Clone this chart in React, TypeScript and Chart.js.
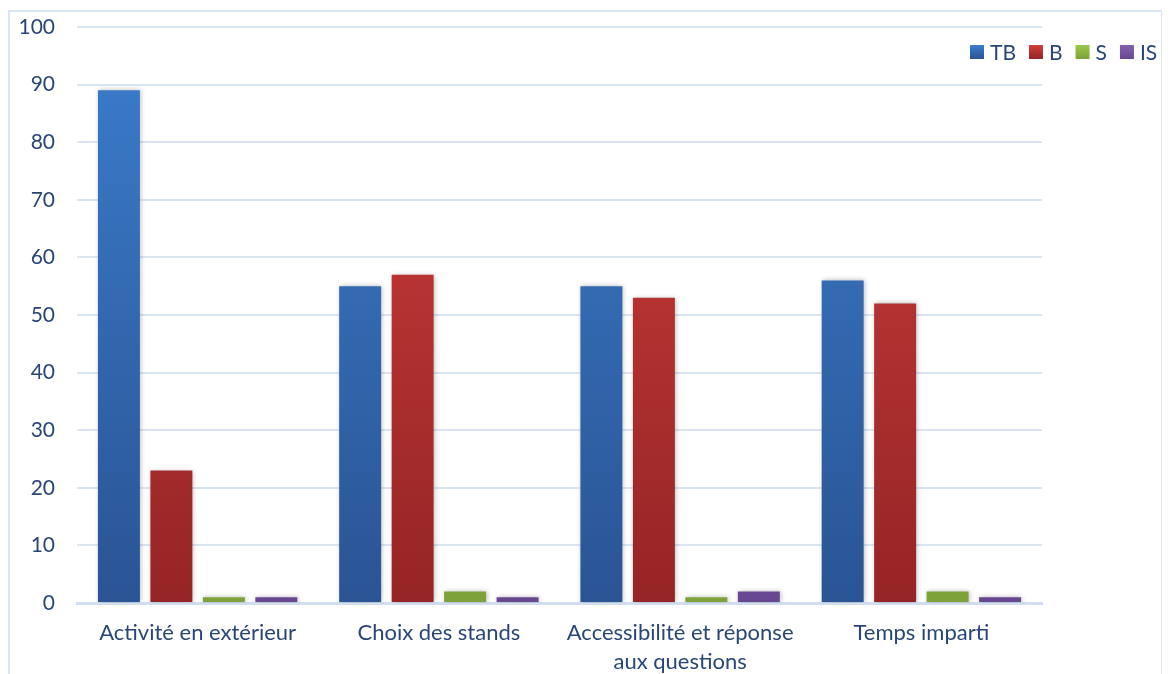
import React, { useEffect, useRef } from "react";
import { Chart, registerables } from "chart.js";

Chart.register(...registerables);

const categories: (string | string[])[] = [
  "Activité en extérieur",
  "Choix des stands",
  ["Accessibilité et réponse", "aux questions"],
  "Temps imparti",
];
const seriesNames = ["TB", "B", "S", "IS"];
const tbValues = [89, 55, 55, 56];
const bValues = [23, 57, 53, 52];
const sValues = [1, 2, 1, 2];
const isValues = [1, 1, 2, 1];
const yTicks = [0, 10, 20, 30, 40, 50, 60, 70, 80, 90, 100];

const colorStops: [string, string][] = [
  ["#3B7DCC", "#2A5494"],
  ["#D03F3B", "#952426"],
  ["#9CC749", "#7DA23A"],
  ["#8461AC", "#674890"],
];

const FONT = "Lato, 'Open Sans', sans-serif";
const TEXT = "#284677";

function gradientFor(idx: number) {
  return (ctx: any) => {
    const chart = ctx.chart;
    const area = chart.chartArea;
    if (!area) return colorStops[idx][0];
    const g = chart.ctx.createLinearGradient(0, area.bottom, 0, area.top);
    g.addColorStop(0, colorStops[idx][1]);
    g.addColorStop(1, colorStops[idx][0]);
    return g;
  };
}

const shadowPlugin = {
  id: "barShadow",
  beforeDatasetsDraw(chart: any) {
    const c = chart.ctx;
    c.save();
    c.shadowColor = "rgba(0,0,0,0.28)";
    c.shadowBlur = 5;
    c.shadowOffsetX = 1;
    c.shadowOffsetY = 0;
  },
  afterDatasetsDraw(chart: any) {
    chart.ctx.restore();
  },
};

const legendPlugin = {
  id: "customLegend",
  afterDraw(chart: any) {
    const c = chart.ctx;
    const area = chart.chartArea;
    c.save();
    c.font = `21px ${FONT}`;
    c.textBaseline = "middle";
    let x = area.right - 72;
    const y = area.top + 25;
    seriesNames.forEach((name, i) => {
      const g = c.createLinearGradient(0, y - 7, 0, y + 7);
      g.addColorStop(0, colorStops[i][0]);
      g.addColorStop(1, colorStops[i][1]);
      c.fillStyle = g;
      c.fillRect(x, y - 7, 14, 14);
      c.fillStyle = TEXT;
      c.textAlign = "left";
      c.fillText(name, x + 20, y + 1);
      x += 20 + c.measureText(name).width + 13;
    });
    c.restore();
  },
};

export default function App() {
  const canvasRef = useRef<HTMLCanvasElement | null>(null);

  useEffect(() => {
    if (!canvasRef.current) return;
    const data = [tbValues, bValues, sValues, isValues];
    const chart = new Chart(canvasRef.current, {
      type: "bar",
      data: {
        labels: categories,
        datasets: seriesNames.map((name, i) => ({
          label: name,
          data: data[i],
          backgroundColor: gradientFor(i),
          borderWidth: 0,
          categoryPercentage: 0.87,
          barPercentage: 0.8,
        })),
      },
      options: {
        animation: false,
        responsive: false,
        maintainAspectRatio: false,
        layout: { padding: { top: 15, right: 119, left: 0, bottom: 0 } },
        plugins: {
          legend: { display: false },
          tooltip: { enabled: false },
        },
        scales: {
          x: {
            grid: { display: false, drawTicks: false },
            border: { display: true, color: "#D0DEF0", width: 3 },
            ticks: {
              color: TEXT,
              font: { family: FONT, size: 22, lineHeight: 1.32 },
              padding: 15,
              maxRotation: 0,
              autoSkip: false,
            },
            afterFit: (scale: any) => {
              scale.height = 89;
              scale.paddingLeft = 0;
              scale.paddingRight = 0;
            },
          },
          y: {
            min: 0,
            max: 100,
            afterBuildTicks: (scale: any) => {
              scale.ticks = yTicks.map((v) => ({ value: v }));
            },
            grid: { color: "#DAE5F3", lineWidth: 2, drawTicks: false },
            border: { display: false },
            ticks: {
              color: TEXT,
              font: { family: FONT, size: 21 },
              padding: 22,
            },
            afterFit: (scale: any) => {
              scale.width = 67;
              scale.paddingTop = 0;
              scale.paddingBottom = 0;
            },
          },
        },
      },
      plugins: [shadowPlugin, legendPlugin],
    });
    return () => chart.destroy();
  }, []);

  return (
    <div
      style={{
        position: "relative",
        top: 2,
        width: 1155,
        height: 690,
        border: "2px solid #D9E5F4",
        boxSizing: "border-box",
      }}
    >
      <canvas ref={canvasRef} width={1151} height={680} style={{ display: "block" }} />
    </div>
  );
}
